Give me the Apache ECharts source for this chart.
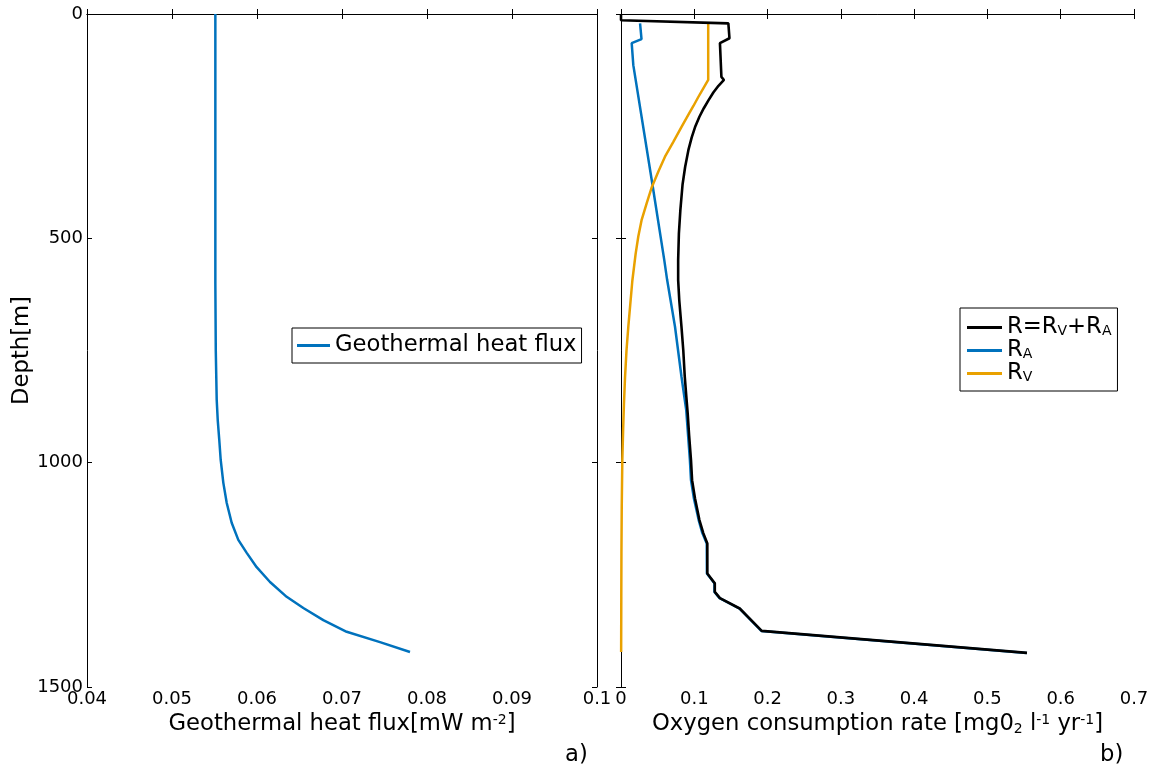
<!DOCTYPE html>
<html>
<head>
<meta charset="utf-8">
<script src="https://cdn.jsdelivr.net/npm/echarts@6/dist/echarts.min.js"></script>
<style>
html,body{margin:0;padding:0;background:#fff;}
#chart{width:1153px;height:769px;}
</style>
</head>
<body>
<div id="chart"></div>
<script>
// ---- Panel a) geothermal heat flux vs depth ----
const depthFlux = [0, 300, 600, 750, 860, 905, 949, 994, 1045, 1090, 1134, 1172, 1201, 1233, 1266, 1299, 1324, 1351, 1377, 1400, 1422];
const heatFlux  = [0.0551, 0.0551, 0.0551, 0.05515, 0.05526, 0.05538, 0.05556, 0.05573, 0.05604, 0.05644, 0.05702, 0.05780, 0.05879, 0.05996, 0.06153, 0.06349, 0.06545, 0.06780, 0.07055, 0.07447, 0.07800];

// ---- Panel b) oxygen consumption rates vs depth ----
const depthR = [2, 14, 21, 54, 65, 140, 147, 160, 175, 192, 210, 229, 250, 275, 303, 341, 380, 437, 489, 548, 593, 638, 697, 750, 808, 850, 890, 940, 994, 1039, 1080, 1128, 1157, 1180, 1247, 1269, 1288, 1302, 1325, 1375, 1424];
const rTotal = [0, 0, 0.1465, 0.148, 0.135, 0.137, 0.1405, 0.133, 0.126, 0.1195, 0.113, 0.107, 0.1015, 0.0965, 0.092, 0.0875, 0.084, 0.081, 0.079, 0.078, 0.078, 0.0795, 0.0825, 0.085, 0.087, 0.089, 0.091, 0.093, 0.0955, 0.097, 0.101, 0.107, 0.1123, 0.1178, 0.1178, 0.128, 0.128, 0.135, 0.162, 0.192, 0.554];

const depthRA = [21, 56, 65, 114, 381, 548, 593, 697, 808, 883, 994, 1039, 1080, 1128, 1157, 1180, 1247, 1269, 1288, 1302, 1325, 1375, 1424];
const rA      = [0.026, 0.028, 0.0146, 0.0168, 0.0430, 0.0590, 0.0630, 0.0737, 0.0825, 0.0890, 0.0940, 0.0955, 0.0995, 0.1060, 0.1110, 0.1170, 0.1172, 0.1275, 0.1275, 0.1345, 0.1615, 0.1915, 0.5535];

const depthRV = [21, 147, 165, 185, 205, 225, 251, 285, 318, 351, 386, 422, 460, 496, 534, 594, 650, 697, 750, 810, 870, 921, 995, 1100, 1200, 1300, 1422];
const rV      = [0.119, 0.119, 0.1125, 0.1055, 0.0988, 0.0918, 0.0828, 0.0714, 0.060, 0.051, 0.042, 0.035, 0.028, 0.0236, 0.0200, 0.0155, 0.0125, 0.010, 0.0075, 0.0055, 0.004, 0.003, 0.0018, 0.001, 0.0006, 0.0004, 0.0002];

// ---- Axis ranges ----
const depthRange = [0, 1500, 500];
const fluxRange = [0.04, 0.1, 0.01];
const rateRange = [0, 0.7, 0.1];

const FONT = 'DejaVu Sans';
const TITLE_SIZE = 22.7;
const pairs = (xs, ys) => xs.map((x, i) => [x, ys[i]]);

const chart = echarts.init(document.getElementById('chart'), null, {renderer: 'canvas'});

const axisLineStyle = {lineStyle: {color: '#000', width: 1}};
const tickIn = {inside: true, length: 5, lineStyle: {color: '#000', width: 1}};
const tickLabel = {fontSize: 18, color: '#000', fontFamily: FONT};

function xAx(grid, range, pos, showLabel, name, rich) {
  return {
    type: 'value', gridIndex: grid, position: pos,
    min: range[0], max: range[1], interval: range[2],
    axisLine: axisLineStyle, axisTick: tickIn, splitLine: {show: false},
    axisLabel: Object.assign({show: showLabel, margin: 3, showMinLabel: true, showMaxLabel: true}, tickLabel),
    name: name || '', nameLocation: 'middle', nameGap: 24,
    nameTextStyle: {fontSize: TITLE_SIZE, color: '#000', fontFamily: FONT, rich: rich || {}}
  };
}
function yAx(grid, pos, showLabel, name) {
  return {
    type: 'value', gridIndex: grid, position: pos, inverse: true,
    min: depthRange[0], max: depthRange[1], interval: depthRange[2],
    axisLine: axisLineStyle, axisTick: tickIn, splitLine: {show: false},
    axisLabel: Object.assign({show: showLabel, margin: 4, showMinLabel: true, showMaxLabel: true,
      formatter: v => String(v)}, tickLabel),
    name: name || '', nameLocation: 'middle', nameGap: 35,
    nameTextStyle: {fontSize: TITLE_SIZE, color: '#000', fontFamily: FONT}
  };
}

const supStyle = {fontSize: 14, verticalAlign: 'top', color: '#000', fontFamily: FONT};
const subStyle = {fontSize: 14, verticalAlign: 'bottom', color: '#000', fontFamily: FONT};

const legendRich = {
  n: {fontSize: TITLE_SIZE, color: '#000', fontFamily: FONT, lineHeight: 22},
  s: {fontSize: 14, color: '#000', fontFamily: FONT, verticalAlign: 'bottom', lineHeight: 22, padding: [8, 0, 0, 0]}
};
const legendLabels = {
  'R=RV+RA': '{n|R=R}{s|V}{n|+R}{s|A}',
  'RA': '{n|R}{s|A}',
  'RV': '{n|R}{s|V}'
};

const option = {
  animation: false,
  backgroundColor: '#fff',
  grid: [
    {left: 87, top: 14, width: 510, height: 673, containLabel: false},
    {left: 621, top: 14, width: 513, height: 673, containLabel: false}
  ],
  xAxis: [
    xAx(0, fluxRange, 'bottom', true, 'Geothermal heat flux[mW m{sup|-2}]', {sup: supStyle}),
    xAx(0, fluxRange, 'top', false),
    xAx(1, rateRange, 'bottom', true, 'Oxygen consumption rate [mg0{sub|2} l{sup|-1} yr{sup|-1}]', {sup: supStyle, sub: subStyle}),
    xAx(1, rateRange, 'top', false)
  ],
  yAxis: [
    yAx(0, 'left', true, 'Depth[m]'),
    yAx(0, 'right', false),
    yAx(1, 'left', false),
    yAx(1, 'right', false)
  ],
  legend: [
    {
      data: ['Geothermal heat flux'],
      left: 292, top: 328,
      icon: 'rect', itemWidth: 33, itemHeight: 3, itemGap: 0,
      padding: [6, 5, 6, 5],
      borderColor: '#000', borderWidth: 1, backgroundColor: '#fff',
      textStyle: {fontSize: TITLE_SIZE, color: '#000', fontFamily: FONT, lineHeight: 22},
      itemTextGap: 5
    },
    {
      data: ['R=RV+RA', 'RA', 'RV'],
      orient: 'vertical',
      left: 960, top: 308,
      icon: 'rect', itemWidth: 35, itemHeight: 3, itemGap: 0,
      padding: [8, 6, 6, 7],
      borderColor: '#000', borderWidth: 1, backgroundColor: '#fff',
      itemTextGap: 3,
      formatter: name => legendLabels[name],
      textStyle: {fontSize: TITLE_SIZE, color: '#000', fontFamily: FONT, rich: legendRich}
    }
  ],
  graphic: [
    {type: 'text', left: 565, top: 744, style: {text: 'a)', fontSize: TITLE_SIZE, fontFamily: FONT, fill: '#000'}},
    {type: 'text', left: 1100, top: 744, style: {text: 'b)', fontSize: TITLE_SIZE, fontFamily: FONT, fill: '#000'}}
  ],
  series: [
    {
      name: 'Geothermal heat flux', type: 'line', xAxisIndex: 0, yAxisIndex: 0,
      data: pairs(heatFlux, depthFlux), showSymbol: false,
      lineStyle: {color: '#0072BD', width: 2.5}, itemStyle: {color: '#0072BD'}, z: 3
    },
    {
      name: 'R=RV+RA', type: 'line', xAxisIndex: 2, yAxisIndex: 2,
      data: pairs(rTotal, depthR), showSymbol: false,
      lineStyle: {color: '#000', width: 2.6}, itemStyle: {color: '#000'}, z: 4
    },
    {
      name: 'RA', type: 'line', xAxisIndex: 2, yAxisIndex: 2,
      data: pairs(rA, depthRA), showSymbol: false,
      lineStyle: {color: '#0072BD', width: 2.5}, itemStyle: {color: '#0072BD'}, z: 3
    },
    {
      name: 'RV', type: 'line', xAxisIndex: 2, yAxisIndex: 2,
      data: pairs(rV, depthRV), showSymbol: false,
      lineStyle: {color: '#E9A100', width: 2.5}, itemStyle: {color: '#E9A100'}, z: 3
    }
  ]
};
chart.setOption(option);
</script>
</body>
</html>
